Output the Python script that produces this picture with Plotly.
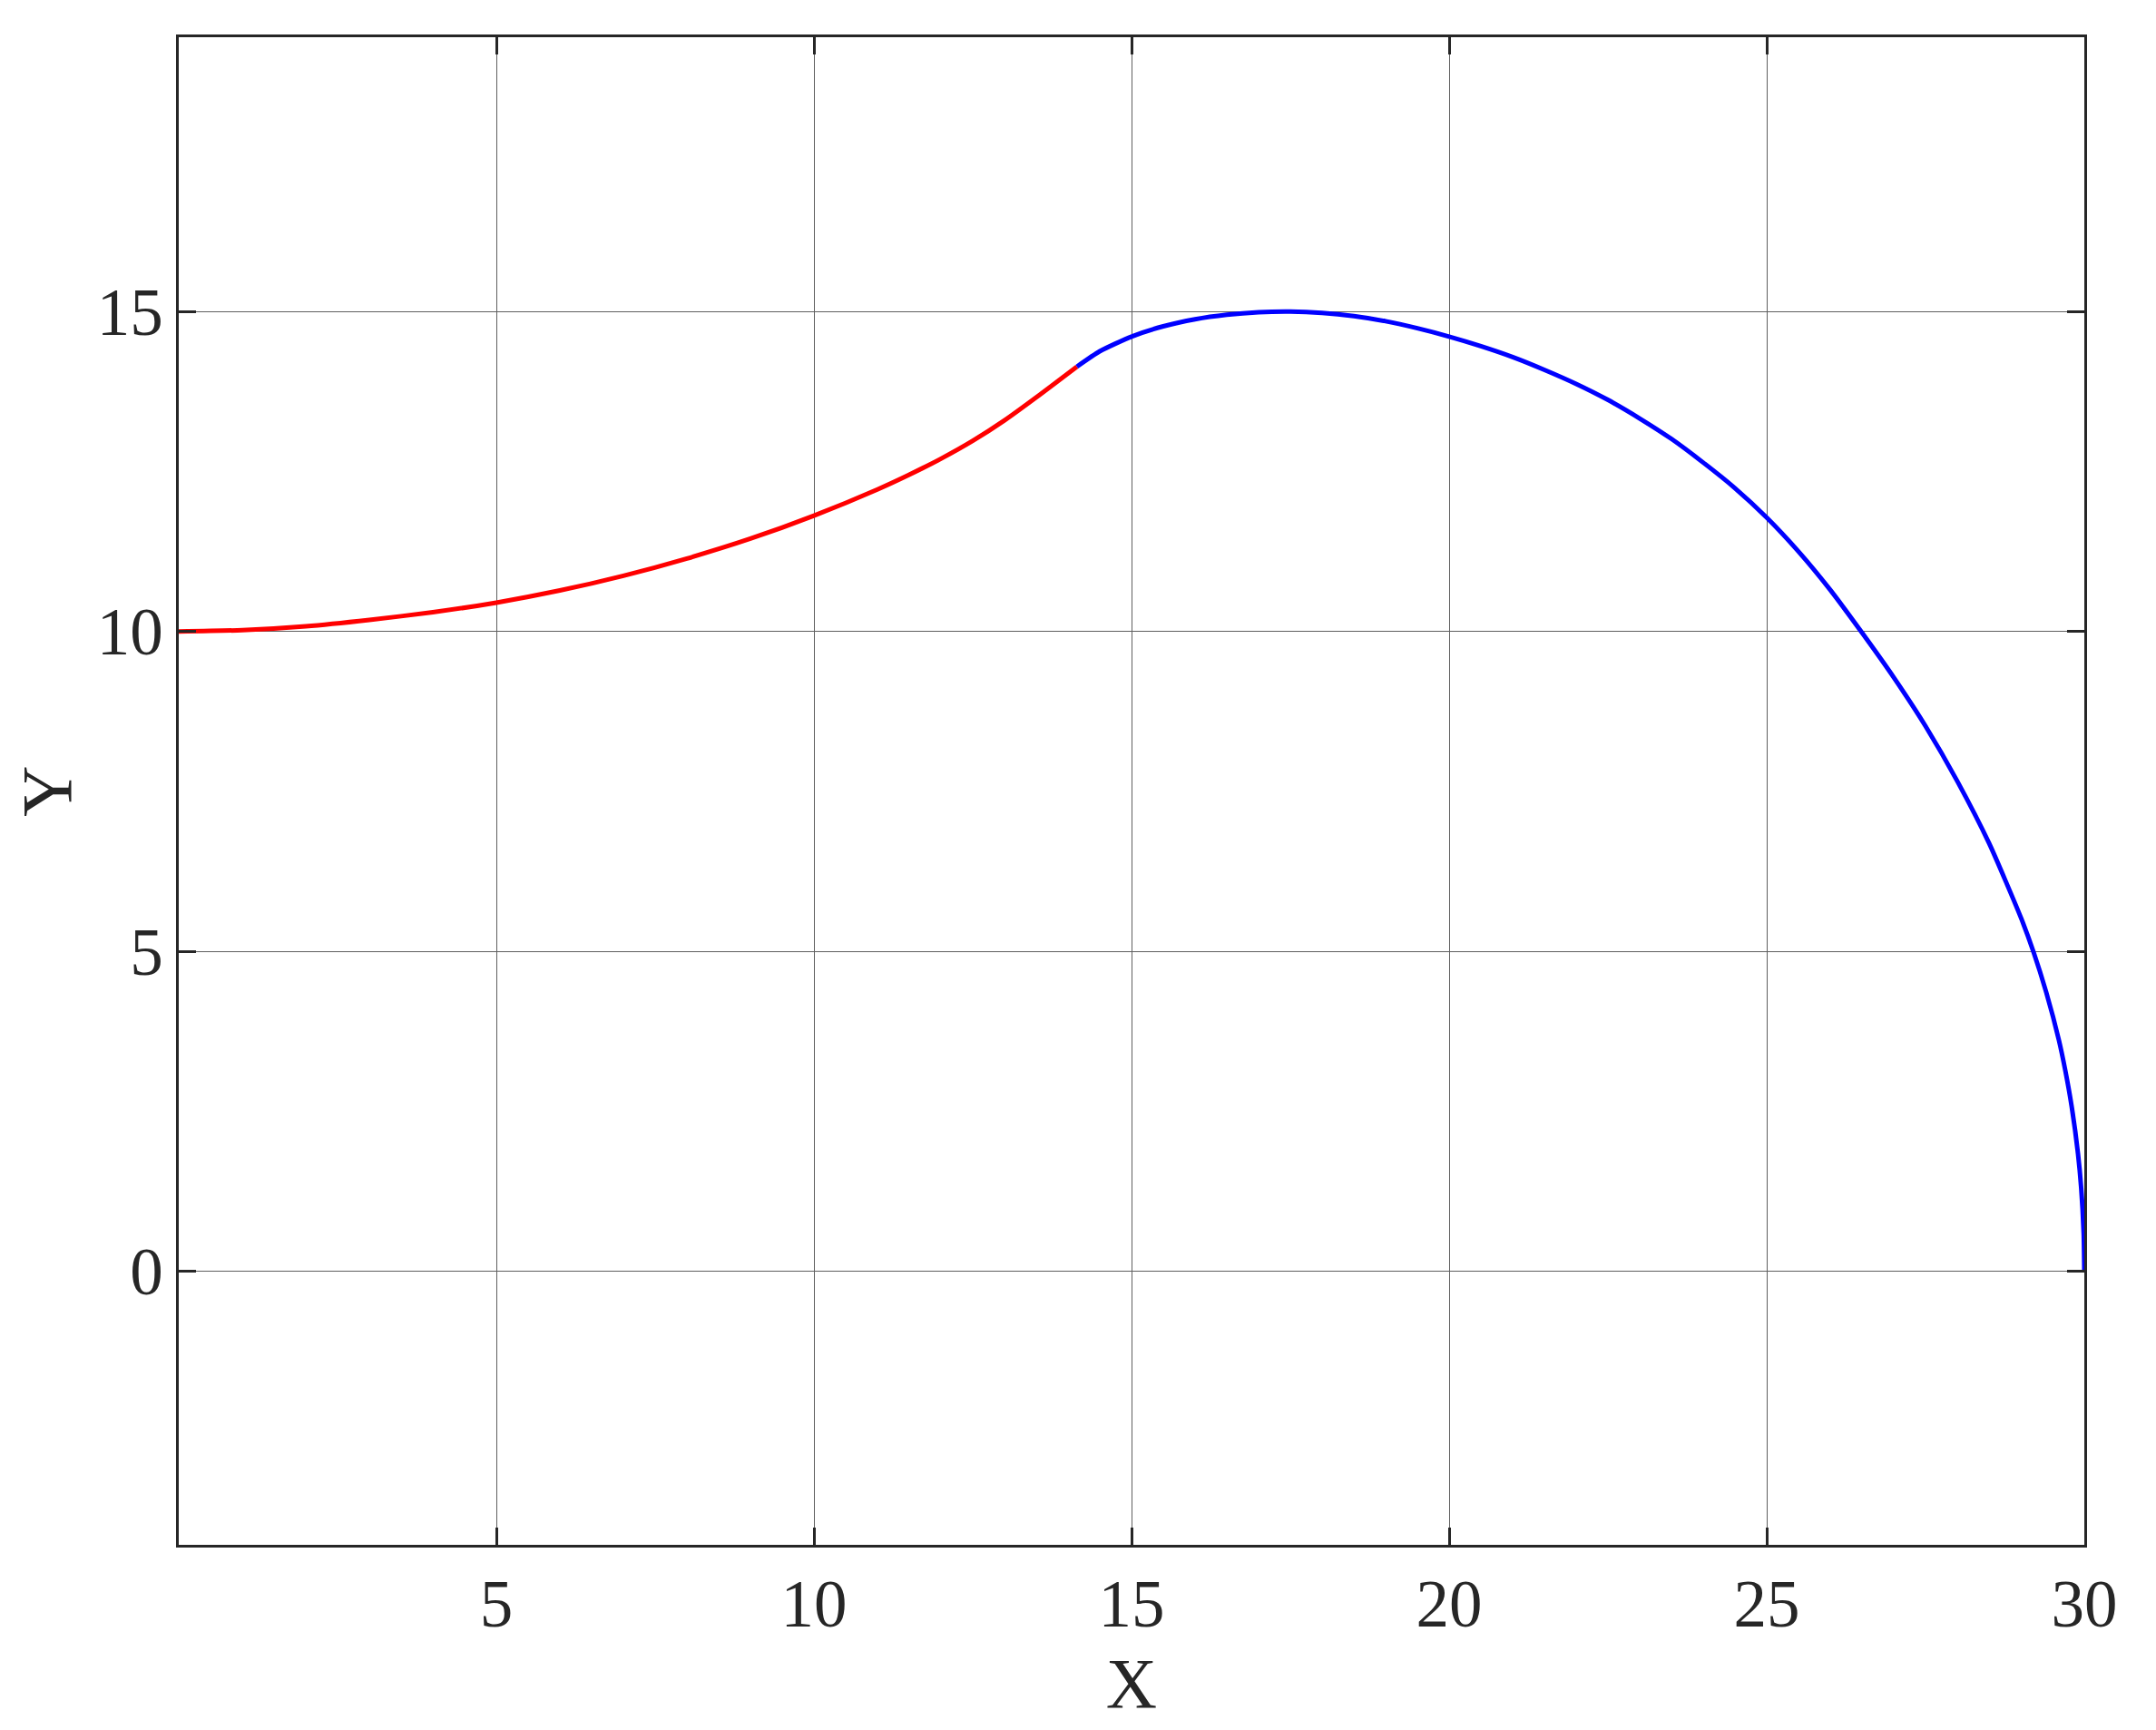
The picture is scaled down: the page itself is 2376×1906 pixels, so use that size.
import plotly.graph_objects as go

# Red segment
red_x = [0, 1, 2, 3, 4, 5, 6, 7, 8, 9, 10, 11, 11.5, 12, 12.5, 13, 13.5, 14.14]
red_y = [10, 10.02, 10.08, 10.18, 10.30, 10.45, 10.64, 10.87, 11.14, 11.45,
         11.81, 12.22, 12.45, 12.70, 12.98, 13.30, 13.66, 14.14]

# Blue segment
blue_x = [14.14, 14.5, 15, 15.5, 16, 16.5, 17, 17.5, 18, 18.5, 19, 19.5, 20,
          20.5, 21, 21.5, 22, 22.5, 23, 23.5, 24, 24.5, 25, 25.5, 26, 26.5,
          27, 27.5, 28, 28.5, 29, 29.2, 29.4, 29.6, 29.7, 29.8, 29.9, 29.95,
          29.99, 30]
blue_y = [14.14, 14.38, 14.61, 14.77, 14.88, 14.95, 14.99, 15.0, 14.98, 14.93,
          14.85, 14.74, 14.61, 14.46, 14.29, 14.09, 13.87, 13.62, 13.33, 13.01,
          12.64, 12.24, 11.78, 11.25, 10.65, 9.98, 9.28, 8.52, 7.66, 6.69, 5.53,
          4.99, 4.36, 3.61, 3.14, 2.58, 1.84, 1.31, 0.59, 0]

x_ticks = [5, 10, 15, 20, 25, 30]
y_ticks = [0, 5, 10, 15]

FONT = "Liberation Serif"

fig = go.Figure()
fig.add_trace(go.Scatter(x=red_x, y=red_y, mode="lines",
                         line=dict(color="#ff0000", width=5, shape="spline", smoothing=0.6),
                         showlegend=False))
fig.add_trace(go.Scatter(x=blue_x, y=blue_y, mode="lines",
                         line=dict(color="#0000ff", width=5, shape="spline", smoothing=0.6),
                         showlegend=False))

axis_common = dict(
    showgrid=True, gridcolor="#5f5f5f", gridwidth=1.2,
    zeroline=False,
    showline=True, linecolor="#262626", linewidth=2.5, mirror="ticks",
    ticks="inside", ticklen=19, tickwidth=2.5, tickcolor="#262626",
    tickfont=dict(family=FONT, size=73, color="#262626"),
)

fig.update_layout(
    width=2376, height=1906,
    margin=dict(l=181, r=87, t=33, b=212),
    paper_bgcolor="white", plot_bgcolor="white",
    xaxis=dict(range=[0, 30], tickvals=x_ticks, ticktext=[str(v) for v in x_ticks],
               title=dict(text="X", font=dict(family=FONT, size=78, color="#262626"), standoff=20),
               **axis_common),
    yaxis=dict(range=[-4.28, 19.29], tickvals=y_ticks, ticktext=[str(v) for v in y_ticks],
               title=dict(text="Y", font=dict(family=FONT, size=78, color="#262626"), standoff=32),
               **axis_common),
)

fig.write_html("out.html")
